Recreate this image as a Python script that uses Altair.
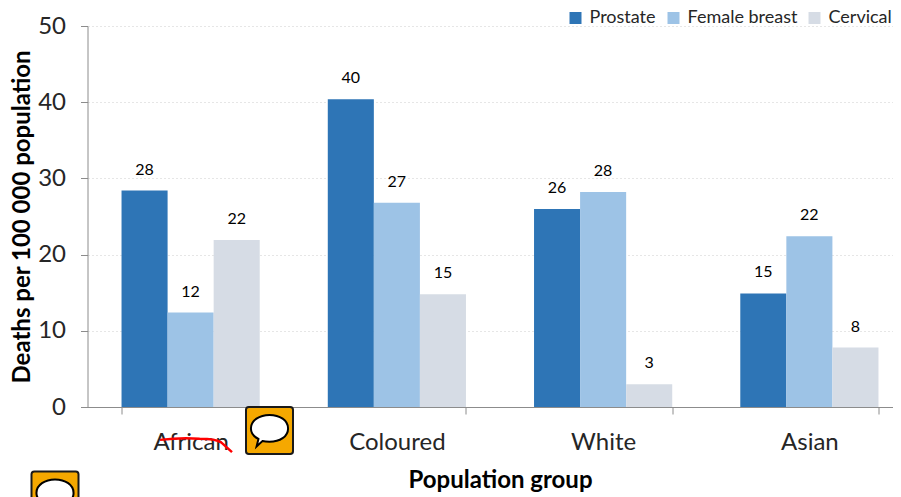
import altair as alt
import pandas as pd

groups = ["African", "Coloured", "White", "Asian"]
causes = ["Prostate", "Female breast", "Cervical"]
colours = ["#2E75B6", "#9DC3E6", "#D6DCE5"]
prostate = [28.4, 40.4, 26.0, 14.9]
breast = [12.4, 26.8, 28.2, 22.4]
cervical = [21.9, 14.8, 3.0, 7.8]
prostate_labels = ["28", "40", "26", "15"]
breast_labels = ["12", "27", "28", "22"]
cervical_labels = ["22", "15", "3", "8"]

rows = []
for cause, vals, labs in zip(causes, [prostate, breast, cervical],
                             [prostate_labels, breast_labels, cervical_labels]):
    for g, v, l in zip(groups, vals, labs):
        rows.append({"group": g, "cause": cause, "value": v, "label": l})
df = pd.DataFrame(rows)

FONT = "Lato"
x = alt.X("group:N", sort=groups, title="Population group",
          scale=alt.Scale(paddingInner=0.33, paddingOuter=0.165, range=[0, 825]),
          axis=alt.Axis(tickBand="extent", labelAngle=0, labelFontSize=24, labelColor="#262626",
                        labelPadding=16, tickSize=7, tickColor="#8c8c8c", domainColor="#8c8c8c",
                        titleFontSize=24, titleFontWeight="bold", titlePadding=14,
                        titleColor="#000000", labelFont=FONT, titleFont=FONT, grid=False))
xo = alt.XOffset("cause:N", sort=causes, scale=alt.Scale(paddingInner=0, paddingOuter=0))
y = alt.Y("value:Q", title="Deaths per 100 000 population",
          scale=alt.Scale(domain=[0, 50], nice=False),
          axis=alt.Axis(values=[0, 10, 20, 30, 40, 50], labelFontSize=24, labelColor="#262626",
                        labelPadding=15, tickSize=7, tickColor="#8c8c8c", domainColor="#8c8c8c",
                        titleFontSize=24, titleFontWeight="bold", titleColor="#000000",
                        titlePadding=3, labelFont=FONT, titleFont=FONT,
                        grid=True, gridColor="#e6e6e6", gridDash=[2, 2], gridWidth=1))

bars = alt.Chart(df).mark_bar().encode(
    x=x, xOffset=xo, y=y,
    color=alt.Color("cause:N", sort=causes,
                    scale=alt.Scale(domain=causes, range=colours),
                    legend=alt.Legend(orient="none", legendX=479, legendY=-17, direction="horizontal",
                                      columns=3, title=None, symbolType="square", symbolSize=144,
                                      symbolStrokeWidth=0, labelFontSize=18, labelFont=FONT,
                                      labelColor="#262626", columnPadding=8, labelOffset=5)),
)
text = alt.Chart(df).mark_text(fontSize=16, font=FONT, color="#000000", baseline="middle", dy=-21).encode(
    x=x, xOffset=xo, y=y, text="label:N",
)

one = pd.DataFrame({"a": [0]})
BOX = "M-0.88,-1 L0.88,-1 Q1,-1 1,-0.88 L1,0.88 Q1,1 0.88,1 L-0.88,1 Q-1,1 -1,0.88 L-1,-0.88 Q-1,-1 -0.88,-1 Z"
BUBBLE = ("M-0.79,-0.09 C-0.79,-0.43 -0.42,-0.66 0,-0.66 C0.44,-0.66 0.79,-0.43 0.79,-0.09 "
          "C0.79,0.26 0.44,0.48 0,0.48 C-0.12,0.48 -0.22,0.47 -0.3,0.45 L-0.55,0.68 L-0.47,0.36 "
          "C-0.66,0.26 -0.79,0.09 -0.79,-0.09 Z")
STROKE = "M-1,-0.17 Q-0.4,-0.24 0.1,-0.2 Q0.55,-0.2 0.7,-0.1 L1,0.17"


def icon(px, py):
    box = alt.Chart(one).mark_point(shape=BOX, size=2209, filled=True, fill="#F5A800", stroke="#1a1a1a",
                                    strokeWidth=2, opacity=1).encode(x=alt.value(px), y=alt.value(py))
    bub = alt.Chart(one).mark_point(shape=BUBBLE, size=2209, filled=True, fill="#ffffff", stroke="#000000",
                                    strokeWidth=2, opacity=1).encode(x=alt.value(px), y=alt.value(py))
    return box + bub


red = alt.Chart(one).mark_point(shape=STROKE, size=5184, filled=False, fill="transparent", stroke="#FF0000",
                                strokeWidth=2.5, opacity=1).encode(x=alt.value(108.5), y=alt.value(420))

chart = alt.layer(bars, text, red, icon(182, 404.5), icon(-32.5, 469)).properties(
    width=805.5, height=381,
    padding={"left": 79.5, "top": 18, "right": 0, "bottom": 90},
    autosize=alt.AutoSizeParams(type="none"),
    background="#ffffff",
).configure_view(stroke=None)

chart.save("out.html", embed_options={"renderer": "svg", "actions": False})
